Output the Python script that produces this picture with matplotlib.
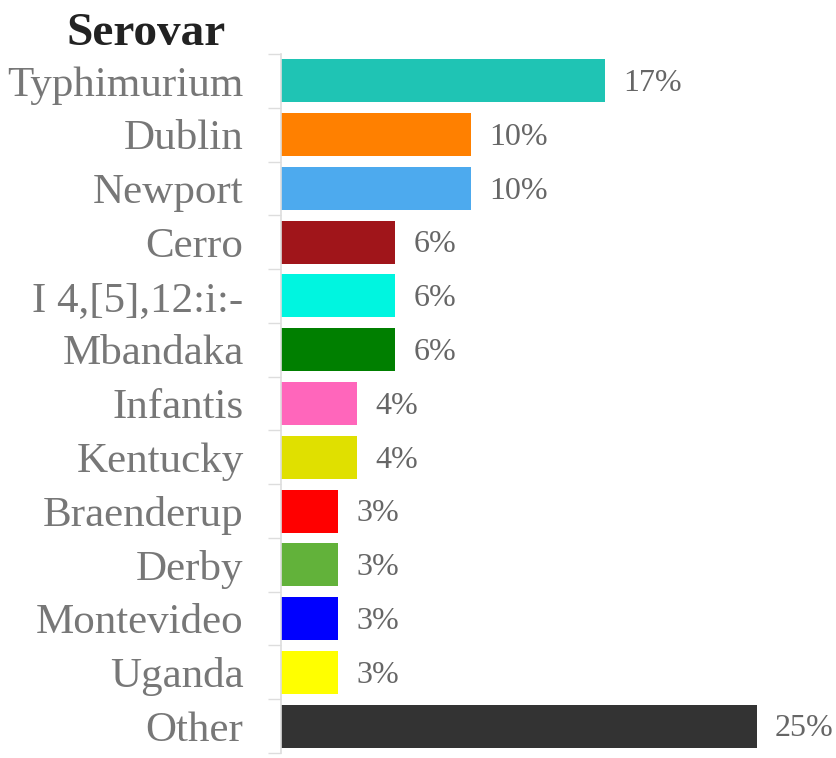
import matplotlib.pyplot as plt

# Serovar shares (percent of isolates)
serovars = ['Typhimurium', 'Dublin', 'Newport', 'Cerro', 'I 4,[5],12:i:-',
            'Mbandaka', 'Infantis', 'Kentucky', 'Braenderup', 'Derby',
            'Montevideo', 'Uganda', 'Other']
shares = [17, 10, 10, 6, 6, 6, 4, 4, 3, 3, 3, 3, 25]
bar_colors = ['#1fc4b4', '#ff8000', '#4daaee', '#a0151a', '#00f5e0',
              '#007f00', '#ff66bb', '#e0e000', '#ff0000', '#62b23a',
              '#0000ff', '#ffff00', '#333333']

plt.rcParams['font.family'] = ['Liberation Serif', 'DejaVu Serif']

fig = plt.figure(figsize=(8.37, 7.58), dpi=100)
ax = fig.add_axes([281 / 837, 5 / 758, 556 / 837, 699 / 758])

ypos = list(range(len(serovars)))
ax.barh(ypos, shares, height=0.8, color=bar_colors)

for y, v in zip(ypos, shares):
    ax.annotate(f'{v}%', xy=(v, y), xytext=(13, -2), textcoords='offset points',
                va='center', ha='left', fontsize=23, color='#666666')

ax.set_ylim(len(serovars) - 0.5, -0.5)
ax.set_xlim(0, 29.2)

ax.set_yticks(ypos)
ax.set_yticklabels(serovars, fontsize=31, color='#777777')
ax.tick_params(axis='y', length=0, pad=27)
ax.set_yticks([i - 0.5 for i in range(len(serovars) + 1)], minor=True)
ax.tick_params(axis='y', which='minor', length=9.5, width=1, color='#dddddd')
ax.set_xticks([])

for side in ['top', 'right', 'bottom']:
    ax.spines[side].set_visible(False)
ax.spines['left'].set_color('#dddddd')
ax.spines['left'].set_linewidth(1.2)

fig.text(146 / 837, 1 - 34 / 758, 'Serovar', ha='center', va='center',
         fontsize=34, fontweight='bold', color='#222222')

fig.savefig('out.png', dpi=100)
